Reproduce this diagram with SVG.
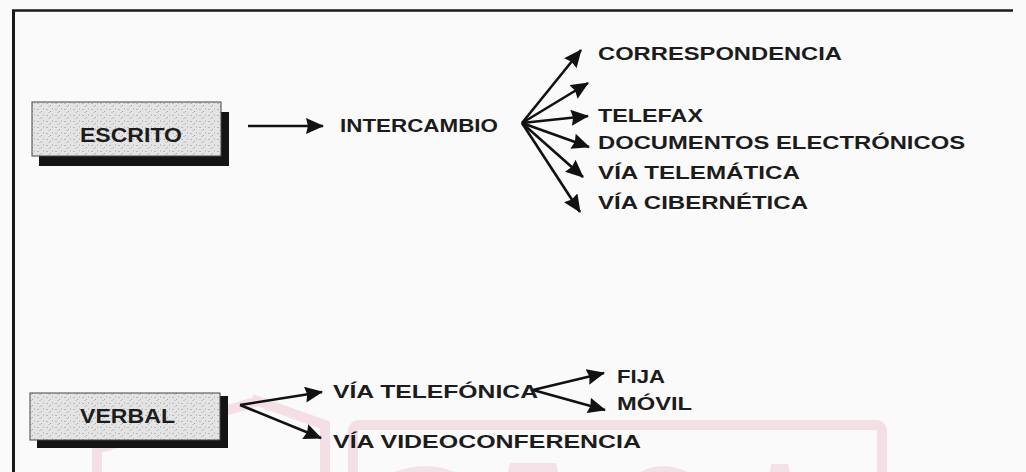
<svg xmlns="http://www.w3.org/2000/svg" width="1026" height="472" viewBox="0 0 1026 472">
<style>
.t{font-family:"Liberation Sans",Arial,sans-serif;font-weight:bold;font-size:19px;fill:#1c1c1c}
.b{font-size:20px}
.c{stroke:#111;stroke-width:2.6;fill:none;marker-end:url(#ah)}
.frame{stroke:#1a1a1a;fill:none}
.wm{fill:none;stroke:#f4dfe5;stroke-width:10}
.wmf{fill:#f5e2e8}
.box{fill:url(#speck);stroke:#444;stroke-width:1}
.shadow{fill:#141414}
</style>
<defs>
<marker id="ah" markerUnits="userSpaceOnUse" markerWidth="19" markerHeight="16" refX="17" refY="8" orient="auto" viewBox="0 0 19 16">
<path d="M0,0 L18,8 L0,16 L2,8 Z" fill="#111"/>
</marker>
<pattern id="speck" width="9" height="6" patternUnits="userSpaceOnUse">
<rect width="9" height="6" fill="#e4e4e4"/>
<rect x="1" y="1" width="2" height="1" fill="#b8b8b8"/>
<rect x="5" y="3" width="1" height="1" fill="#a8a8a8"/>
<rect x="7" y="0" width="1" height="2" fill="#c4c4c4"/>
<rect x="3" y="4" width="2" height="1" fill="#c8c8c8"/>
</pattern>
</defs>
<rect width="1026" height="472" fill="#fafafa"/>
<g id="watermark">
<rect class="wm" x="353" y="425" width="529" height="90" rx="6"/>
<path class="wm" d="M97 472 L97 449 L258 401"/>
<path class="wm" d="M252 399 L325 425 L325 472"/>
<path class="wmf" d="M395 472 Q425 460 455 472 Z"/>
<path class="wmf" d="M508 472 L510 463 L556 463 L558 472 Z"/>
<path class="wmf" d="M640 472 Q662 460 688 472 Z"/>
<path class="wmf" d="M770 472 L771 464 L788 464 L790 472 Z"/>
</g>
<g id="frame">
<path class="frame" d="M12 10.5 L1013 10.5" stroke-width="2.5"/>
<path class="frame" d="M13.5 10 L13.5 472" stroke-width="3"/>
</g>
<g id="escrito">
<path class="shadow" d="M221 112 L229 112 L229 166 L39 166 L39 156 L221 156 Z"/>
<rect class="box" x="32" y="102" width="189" height="54"/>
<text class="t b" x="80" y="142" textLength="102" lengthAdjust="spacingAndGlyphs">ESCRITO</text>
</g>
<g id="intercambio">
<text class="t" x="340" y="132" textLength="158" lengthAdjust="spacingAndGlyphs">INTERCAMBIO</text>
</g>
<g id="correspondencia"><text class="t" x="598" y="60" textLength="244" lengthAdjust="spacingAndGlyphs">CORRESPONDENCIA</text></g>
<g id="telefax"><text class="t" x="598" y="122" textLength="105" lengthAdjust="spacingAndGlyphs">TELEFAX</text></g>
<g id="documentos"><text class="t" x="598" y="149" textLength="367" lengthAdjust="spacingAndGlyphs">DOCUMENTOS ELECTRÓNICOS</text></g>
<g id="telematica"><text class="t" x="598" y="179" textLength="202" lengthAdjust="spacingAndGlyphs">VÍA TELEMÁTICA</text></g>
<g id="cibernetica"><text class="t" x="598" y="209" textLength="210" lengthAdjust="spacingAndGlyphs">VÍA CIBERNÉTICA</text></g>
<g id="verbal">
<path class="shadow" d="M220 396 L228 396 L228 448 L37 448 L37 440 L220 440 Z"/>
<rect class="box" x="30" y="393" width="190" height="47"/>
<text class="t b" x="80" y="423" textLength="95" lengthAdjust="spacingAndGlyphs">VERBAL</text>
</g>
<g id="telefonica"><text class="t" x="333" y="398" textLength="205" lengthAdjust="spacingAndGlyphs">VÍA TELEFÓNICA</text></g>
<g id="videoconferencia"><text class="t" x="333" y="448" textLength="308" lengthAdjust="spacingAndGlyphs">VÍA VIDEOCONFERENCIA</text></g>
<g id="fija"><text class="t" x="617" y="383" textLength="48" lengthAdjust="spacingAndGlyphs">FIJA</text></g>
<g id="movil"><text class="t" x="617" y="410" textLength="75" lengthAdjust="spacingAndGlyphs">MÓVIL</text></g>
<g id="connectors">
<line class="c" x1="248" y1="126" x2="323" y2="126"/>
<line class="c" x1="522" y1="123" x2="581" y2="50"/>
<line class="c" x1="522" y1="123" x2="588" y2="83"/>
<line class="c" x1="522" y1="123" x2="588" y2="116"/>
<line class="c" x1="522" y1="123" x2="589" y2="147"/>
<line class="c" x1="522" y1="123" x2="583" y2="177"/>
<line class="c" x1="522" y1="123" x2="580" y2="212"/>
<line class="c" x1="240" y1="405" x2="322" y2="392"/>
<line class="c" x1="240" y1="405" x2="321" y2="438"/>
<line class="c" x1="533" y1="390" x2="604" y2="373"/>
<line class="c" x1="533" y1="390" x2="605" y2="410"/>
</g>
</svg>
